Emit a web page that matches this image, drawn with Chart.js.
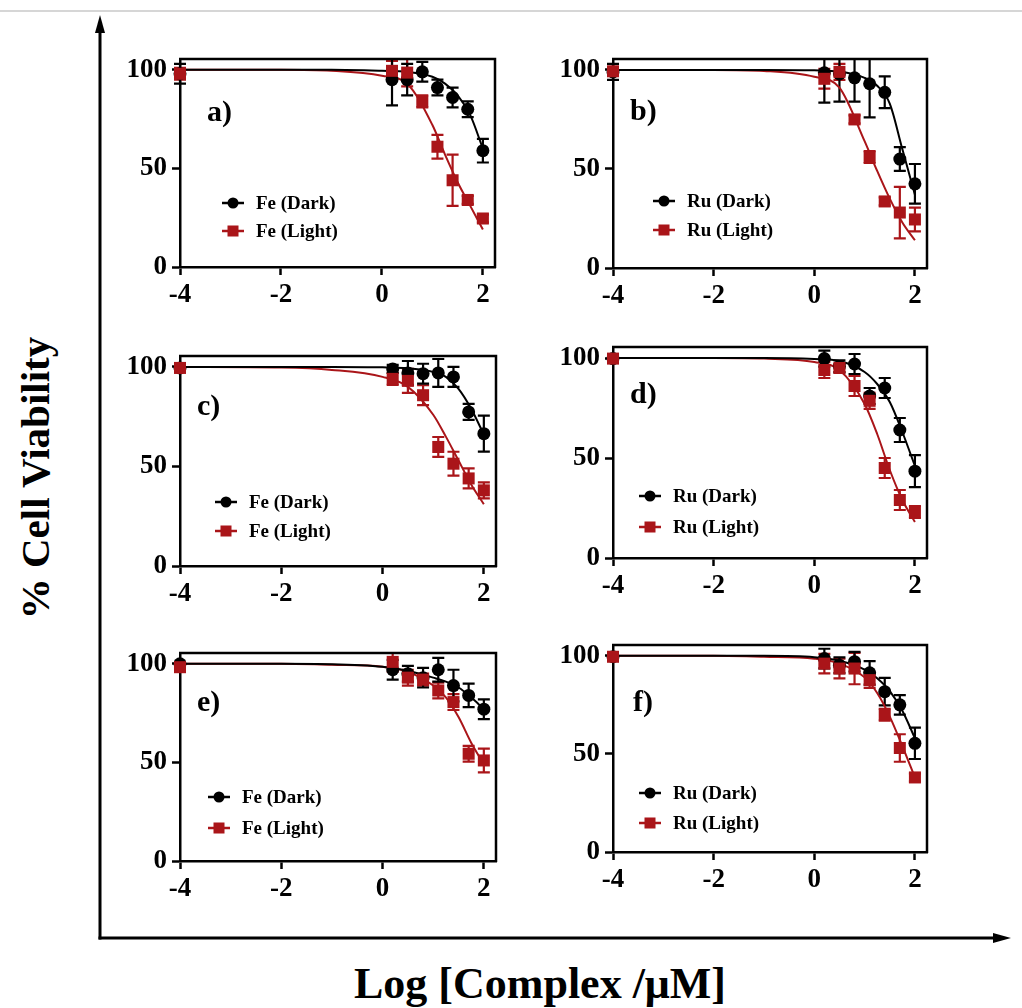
<!DOCTYPE html>
<html><head><meta charset="utf-8">
<script src="https://cdn.jsdelivr.net/npm/chart.js@4.4.1/dist/chart.umd.min.js"></script>
<style>
html,body{margin:0;padding:0;background:#fff;}
body{width:1022px;height:1008px;position:relative;overflow:hidden;font-family:"Liberation Serif","Times New Roman",serif;}
#topline{position:absolute;left:0;top:10px;width:1022px;height:2px;background:#d6d6d6;}
canvas{position:absolute;}
#frame{position:absolute;left:0;top:0;}
.ytitle{position:absolute;left:35px;top:478px;transform:translate(-50%,-50%) rotate(-90deg);font-weight:bold;font-size:41px;white-space:nowrap;color:#000;}
.xtitle{position:absolute;left:540px;top:983px;transform:translate(-50%,-50%);font-weight:bold;font-size:44px;white-space:nowrap;color:#000;}
</style></head>
<body>
<div id="topline"></div>
<svg id="frame" width="1022" height="1008">
  <line x1="100" y1="28" x2="100" y2="939.5" stroke="#000" stroke-width="3"/>
  <polygon points="100,15 95,33 105,33" fill="#000"/>
  <line x1="98.5" y1="938" x2="996" y2="938" stroke="#000" stroke-width="3"/>
  <polygon points="1011,938 993,933 993,943" fill="#000"/>
</svg>
<div class="ytitle">% Cell Viability</div>
<div class="xtitle">Log [Complex /μM]</div>
<script>
// ---------- data ----------
const doseX = [-4, 0.2, 0.5, 0.8, 1.1, 1.4, 1.7, 2.0];
const fitX  = [-4, -2, -1, 0, 0.5, 1, 1.25, 1.5, 1.75, 2];
const xTicks = [-4, -2, 0, 2];
const xTickLabels = ['-4', '-2', '0', '2'];
const yTicks = [0, 50, 100];
const yTickLabels = ['0', '50', '100'];
const panelLabels = ['a)', 'b)', 'c)', 'd)', 'e)', 'f)'];
const metals = ['Fe', 'Ru', 'Fe', 'Ru', 'Fe', 'Ru'];
const conditions = ['Dark', 'Light'];

// panel a
const aDark     = [98, 95, 95, 99, 91, 86, 80, 59];
const aDarkErr  = [5, 13, 8, 5, 4, 5, 4, 6];
const aLight    = [98, 99.5, 98.6, 84, 61, 44, 34, 24.6];
const aLightErr = [3, 5, 7, 3, 6, 13, 2, 2];
const aDarkFit  = [100, 100, 100, 99.5, 99, 96.5, 93, 87, 77, 60];
const aLightFit = [100, 100, 99.5, 97, 93, 72, 57, 43, 31, 19];
// panel b
const bDark     = [99, 98.5, 98, 96, 93, 88.7, 55, 42.5];
const bDarkErr  = [4, 15, 14, 12, 17, 8, 6, 10];
const bLight    = [99.3, 95.5, 99, 75, 56, 33.6, 28, 24.5];
const bLightErr = [2, 5, 4, 2, 3, 2, 13, 6];
const bDarkFit  = [100, 100, 100, 99.8, 99.2, 96, 92, 83, 60, 37];
const bLightFit = [100, 100, 99.5, 96.5, 91, 64, 49, 35, 23, 14];
// panel c
const cDark     = [99.5, 99, 97, 96.6, 97, 95, 77.4, 66.5];
const cDarkErr  = [1, 2, 6, 5, 7, 5, 4, 9];
const cLight    = [99.5, 94, 93, 85.8, 59.8, 51.4, 44, 38];
const cLightErr = [1, 3, 6, 5, 5, 6, 5, 4];
const cDarkFit  = [100, 100, 100, 99.8, 99.3, 97.5, 95, 89, 79, 66];
const cLightFit = [100, 99.7, 98.5, 95, 90, 76, 65, 53, 41, 31];
// panel d
const dDark     = [99.7, 99.7, 95.8, 97, 81, 85, 64, 43.4];
const dDarkErr  = [1, 4, 3, 5, 4, 5, 6, 8];
const dLight    = [99.7, 94, 95, 86, 78.6, 45, 29, 23];
const dLightErr = [1, 4, 2, 5, 4, 5, 5, 3];
const dDarkFit  = [100, 100, 100, 99.5, 98.5, 93, 87, 78, 63, 46];
const dLightFit = [100, 100, 99.7, 98, 94, 77, 62, 44, 29, 18];
// panel e
const eDark     = [100, 97, 95, 93, 97, 89, 84, 77];
const eDarkErr  = [1, 5, 4, 5, 6, 8, 6, 5];
const eLight    = [98.3, 101, 93, 92, 86.5, 80.6, 54.4, 51];
const eLightErr = [2, 5, 4, 3, 4, 4, 4, 6];
const eDarkFit  = [100, 100, 99.8, 98.5, 96.5, 93, 91, 88, 83, 77];
const eLightFit = [100, 100, 99.5, 98.5, 96, 89, 83, 73, 60, 49];
// panel f
const fDark     = [99.5, 98.6, 95.2, 97, 91.3, 81.7, 75, 55.4];
const fDarkErr  = [1, 5, 4, 5, 6, 7, 5, 8];
const fLight    = [99.5, 96, 93.5, 93.5, 87.6, 70, 53, 38];
const fLightErr = [1, 5, 5, 8, 4, 3, 7, 2];
const fDarkFit  = [100, 100, 100, 99.3, 97.5, 93, 88.5, 82, 72, 58];
const fLightFit = [100, 100, 99.5, 98.5, 96, 89, 81, 69, 54, 38];

const panelData = [
  [aDark, aDarkErr, aLight, aLightErr, aDarkFit, aLightFit],
  [bDark, bDarkErr, bLight, bLightErr, bDarkFit, bLightFit],
  [cDark, cDarkErr, cLight, cLightErr, cDarkFit, cLightFit],
  [dDark, dDarkErr, dLight, dLightErr, dDarkFit, dLightFit],
  [eDark, eDarkErr, eLight, eLightErr, eDarkFit, eLightFit],
  [fDark, fDarkErr, fLight, fLightErr, fDarkFit, fLightFit]
];

// ---------- layout (pixels) ----------
const layout = [
  {area:[180, 59, 495, 267], lab:[27, 54], leg:[42, 144, 172]},
  {area:[613, 59, 927, 268], lab:[17, 53], leg:[40, 142, 171]},
  {area:[180, 356, 496, 566], lab:[17, 51], leg:[35, 146, 175]},
  {area:[613, 347, 927, 558], lab:[17, 48], leg:[26, 149, 180]},
  {area:[180, 653, 496, 861], lab:[17, 50], leg:[28, 144, 175]},
  {area:[613, 645, 927, 852], lab:[20, 58], leg:[26, 148, 178]}
];
const FONT = "'Liberation Serif','Times New Roman',serif";
const RED = '#aa1519';
const BLACK = '#000000';

const errorBars = {
  id: 'errorBars',
  beforeDatasetsDraw(chart) {
    const ctx = chart.ctx, ys = chart.scales.y, ca = chart.chartArea;
    ctx.save();
    ctx.beginPath(); ctx.rect(0, ca.top - 1, chart.width, chart.height); ctx.clip();
    chart.data.datasets.forEach((ds, di) => {
      if (!ds.errors) return;
      const meta = chart.getDatasetMeta(di);
      ctx.strokeStyle = ds.borderColor; ctx.lineWidth = 2.2;
      meta.data.forEach((pt, j) => {
        const v = ds.data[j].y, e = ds.errors[j];
        const y1 = ys.getPixelForValue(v + e), y2 = ys.getPixelForValue(v - e);
        ctx.beginPath();
        ctx.moveTo(pt.x, y1); ctx.lineTo(pt.x, y2);
        ctx.moveTo(pt.x - 6, y1); ctx.lineTo(pt.x + 6, y1);
        ctx.moveTo(pt.x - 6, y2); ctx.lineTo(pt.x + 6, y2);
        ctx.stroke();
      });
    });
    ctx.restore();
  }
};

const boxAndText = {
  id: 'boxAndText',
  afterDraw(chart, args, opts) {
    const ctx = chart.ctx, ca = chart.chartArea;
    ctx.save();
    ctx.strokeStyle = '#000'; ctx.lineWidth = 2.5;
    ctx.beginPath();
    ctx.moveTo(ca.left - 1, ca.top); ctx.lineTo(ca.right, ca.top); ctx.lineTo(ca.right, ca.bottom + 1);
    ctx.stroke();
    // panel label
    ctx.fillStyle = '#000';
    ctx.font = 'bold 30px ' + FONT;
    ctx.textBaseline = 'middle'; ctx.textAlign = 'left';
    ctx.fillText(opts.label, ca.left + opts.lab[0], ca.top + opts.lab[1]);
    // legend
    const items = [
      {ds: chart.data.datasets[1], y: opts.leg[1]},
      {ds: chart.data.datasets[0], y: opts.leg[2]}
    ];
    ctx.font = 'bold 19px ' + FONT;
    items.forEach(it => {
      const x0 = ca.left + opts.leg[0], y = ca.top + it.y;
      ctx.strokeStyle = it.ds.borderColor; ctx.fillStyle = it.ds.backgroundColor; ctx.lineWidth = 2.5;
      ctx.beginPath(); ctx.moveTo(x0, y); ctx.lineTo(x0 + 22, y); ctx.stroke();
      if (it.ds.pointStyle === 'circle') {
        ctx.beginPath(); ctx.arc(x0 + 11, y, 5.5, 0, Math.PI * 2); ctx.fill();
      } else {
        ctx.fillRect(x0 + 5.5, y - 5.5, 11, 11);
      }
      ctx.fillStyle = '#000';
      ctx.fillText(it.ds.label, x0 + 34, y + 1);
    });
    ctx.restore();
  }
};

const padL = 80, padT = 30, padR = 16, padB = 50;

layout.forEach((L, i) => {
  const [dark, darkErr, light, lightErr, darkFit, lightFit] = panelData[i];
  const cv = document.createElement('canvas');
  const W = L.area[2] - L.area[0] + padL + padR;
  const H = L.area[3] - L.area[1] + padT + padB;
  cv.width = W; cv.height = H;
  cv.style.width = W + 'px'; cv.style.height = H + 'px';
  cv.style.left = (L.area[0] - padL) + 'px';
  cv.style.top = (L.area[1] - padT) + 'px';
  document.body.appendChild(cv);
  const pts = arr => doseX.map((x, j) => ({x: x, y: arr[j]}));
  const fit = arr => fitX.map((x, j) => ({x: x, y: arr[j]}));
  new Chart(cv, {
    type: 'line',
    data: {
      datasets: [
        {label: metals[i] + ' (' + conditions[1] + ')', data: pts(light), errors: lightErr, showLine: false,
         pointStyle: 'rect', pointRadius: 8.5, pointBorderWidth: 0,
         borderColor: RED, backgroundColor: RED, pointBackgroundColor: RED, clip: false},
        {label: metals[i] + ' (' + conditions[0] + ')', data: pts(dark), errors: darkErr, showLine: false,
         pointStyle: 'circle', pointRadius: 6.5, pointBorderWidth: 0,
         borderColor: BLACK, backgroundColor: BLACK, pointBackgroundColor: BLACK, clip: false},
        {label: 'darkFit', data: fit(darkFit), borderColor: BLACK, borderWidth: 2, pointRadius: 0,
         cubicInterpolationMode: 'monotone', fill: false, clip: false},
        {label: 'lightFit', data: fit(lightFit), borderColor: RED, borderWidth: 2, pointRadius: 0,
         cubicInterpolationMode: 'monotone', fill: false, clip: false}
      ]
    },
    options: {
      responsive: false, animation: false, devicePixelRatio: 1,
      layout: {padding: {top: padT, right: padR, left: 0, bottom: 0}},
      plugins: {legend: {display: false}, tooltip: {enabled: false},
                boxAndText: {label: panelLabels[i], lab: L.lab, leg: L.leg}},
      scales: {
        x: {type: 'linear', min: -4, max: 2.24,
            afterBuildTicks: s => { s.ticks = xTicks.map(v => ({value: v})); },
            afterFit: s => { s.height = padB; },
            grid: {drawOnChartArea: false, tickLength: 8, tickWidth: 2.5, tickColor: '#000', color: '#000'},
            border: {color: '#000', width: 2.5},
            ticks: {color: '#000', padding: 4, maxRotation: 0, autoSkip: false,
                    font: {family: FONT, size: 27, weight: 'bold'},
                    callback: v => xTickLabels[xTicks.indexOf(v)]}},
        y: {type: 'linear', min: 0, max: 105.5,
            afterBuildTicks: s => { s.ticks = yTicks.map(v => ({value: v})); },
            afterFit: s => { s.width = padL; },
            grid: {drawOnChartArea: false, tickLength: 8, tickWidth: 2.5, tickColor: '#000', color: '#000'},
            border: {color: '#000', width: 2.5},
            ticks: {color: '#000', padding: 5, autoSkip: false,
                    font: {family: FONT, size: 27, weight: 'bold'},
                    callback: v => yTickLabels[yTicks.indexOf(v)]}}
      }
    },
    plugins: [errorBars, boxAndText]
  });
});
</script>
</body></html>
